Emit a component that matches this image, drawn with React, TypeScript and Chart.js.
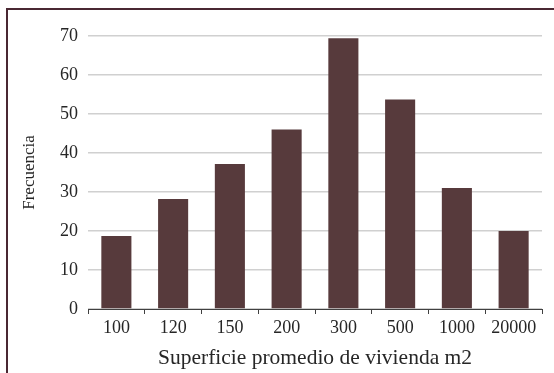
import React, { useEffect, useRef } from "react";
import { Chart, registerables } from "chart.js";

Chart.register(...registerables);

const categories = ["100", "120", "150", "200", "300", "500", "1000", "20000"];
const frecuencia = [18.7, 28.2, 37.2, 46.0, 69.4, 53.7, 31.0, 20.0];
const yTicks = [0, 10, 20, 30, 40, 50, 60, 70];
const xTitle = "Superficie promedio de vivienda m2";
const yTitle = "Frecuencia";

const FONT = "'Liberation Serif', 'DejaVu Serif', serif";

export default function App() {
  const ref = useRef<HTMLCanvasElement | null>(null);

  useEffect(() => {
    document.body.style.margin = "0";
    const canvas = ref.current;
    if (!canvas) return;
    const chart = new Chart(canvas, {
      type: "bar",
      data: {
        labels: categories,
        datasets: [
          {
            label: yTitle,
            data: frecuencia,
            backgroundColor: "#573a3c",
            borderWidth: 0,
            categoryPercentage: 1,
            barPercentage: 0.53,
          },
        ],
      },
      options: {
        animation: false,
        responsive: false,
        maintainAspectRatio: false,
        layout: { padding: { top: 36, right: 12, bottom: 0, left: 0 } },
        plugins: {
          legend: { display: false },
          tooltip: { enabled: false },
        },
        scales: {
          x: {
            afterFit: (scale: any) => {
              scale.height = 64;
            },
            grid: {
              display: true,
              drawOnChartArea: false,
              drawTicks: true,
              tickLength: 5,
              color: "#404040",
              lineWidth: 1,
            },
            border: { display: true, color: "#404040", width: 1 },
            ticks: {
              color: "#262626",
              font: { family: FONT, size: 18 },
              padding: 3,
              maxRotation: 0,
              autoSkip: false,
            },
            title: {
              display: true,
              text: xTitle,
              color: "#262626",
              font: { family: FONT, size: 21.5 },
              padding: { top: 0, bottom: 2 },
            },
          },
          y: {
            min: 0,
            max: 70,
            afterFit: (scale: any) => {
              scale.width = 88;
            },
            afterBuildTicks: (scale: any) => {
              scale.ticks = yTicks.map((v) => ({ value: v }));
            },
            grid: {
              color: "#d0d0d0",
              lineWidth: 1.5,
              drawTicks: false,
            },
            border: { display: false },
            ticks: {
              color: "#262626",
              font: { family: FONT, size: 18 },
              padding: 10,
            },
            title: {
              display: true,
              text: yTitle,
              color: "#262626",
              font: { family: FONT, size: 17 },
              padding: { top: 19, bottom: 0 },
            },
          },
        },
      },
    });
    return () => chart.destroy();
  }, []);

  return (
    <div>
      <canvas
        ref={ref}
        width={554}
        height={373}
        style={{ position: "fixed", left: 0, top: 0, width: 554, height: 373 }}
      />
      <div
        style={{
          position: "fixed",
          left: 6,
          top: 8,
          width: 600,
          height: 420,
          border: "2px solid #4a2832",
          boxSizing: "border-box",
          pointerEvents: "none",
        }}
      />
    </div>
  );
}
